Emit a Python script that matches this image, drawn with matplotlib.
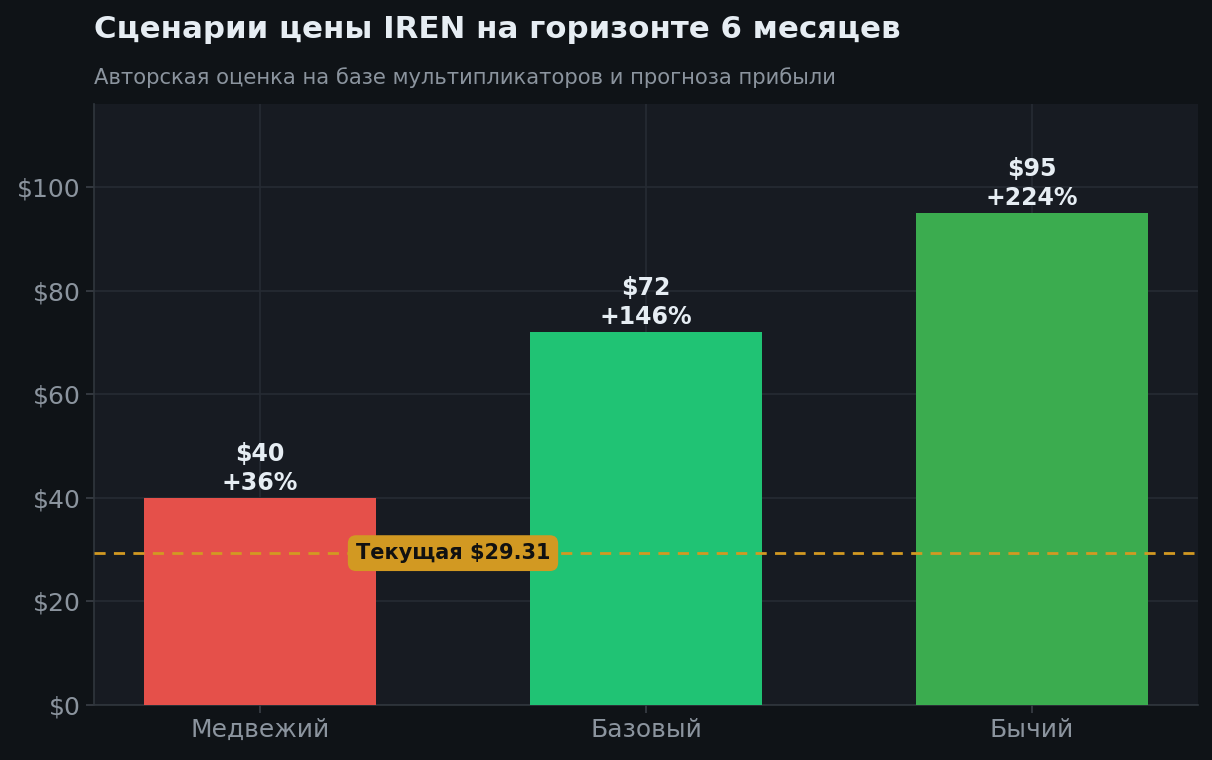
import matplotlib
matplotlib.use("Agg")
from matplotlib import pyplot as plt

scenarios = ["Медвежий", "Базовый", "Бычий"]
targets = [40, 72, 95]
upside = ["+36%", "+146%", "+224%"]
current_price = 29.31
yticks = [0, 20, 40, 60, 80, 100]

bg = "#0f1317"
panel = "#171b22"
txt = "#e6edf3"
muted = "#8b949e"
gridc = "#262b33"
bar_colors = ["#e5504a", "#20c374", "#3bac4f"]
gold = "#d29922"

plt.rcParams["font.family"] = ["DejaVu Sans"]

fig = plt.figure(figsize=(12.12, 7.6), dpi=100, facecolor=bg)
ax = fig.add_axes([94 / 1212, 55 / 760, 1104 / 1212, 601 / 760])
ax.set_facecolor(panel)

x = range(len(scenarios))
ax.bar(x, targets, width=0.6, color=bar_colors, zorder=3)

for i, (v, u) in enumerate(zip(targets, upside)):
    ax.text(i, v + 0.6, f"${v}\n{u}", ha="center", va="bottom",
            color=txt, fontsize=17, fontweight="bold", linespacing=1.25, zorder=5)

ax.axhline(current_price, color=gold, linestyle=(0, (4, 3)), linewidth=2, zorder=4)
ax.text(0.5, current_price, f"Текущая ${current_price:.2f}", ha="center", va="center",
        color="#111111", fontsize=15, fontweight="bold", zorder=6,
        bbox=dict(boxstyle="round,pad=0.38,rounding_size=0.4", fc=gold, ec="none"))

ax.set_ylim(0, 116)
ax.set_xlim(-0.43, 2.43)
ax.set_yticks(yticks)
ax.set_yticklabels([f"${t}" for t in yticks])
ax.set_xticks(list(x))
ax.set_xticklabels(scenarios)
ax.tick_params(colors=muted, labelsize=18, length=6, width=1.2, color="#3a3f47")
ax.grid(True, color=gridc, linewidth=1.2, zorder=0)
for s in ["top", "right"]:
    ax.spines[s].set_visible(False)
for s in ["left", "bottom"]:
    ax.spines[s].set_color("#30363d")
    ax.spines[s].set_linewidth(1.2)

fig.text(94 / 1212, 1 - 29 / 760, "Сценарии цены IREN на горизонте 6 месяцев",
         color=txt, fontsize=22.2, fontweight="bold", ha="left", va="center")
fig.text(94 / 1212, 1 - 78 / 760, "Авторская оценка на базе мультипликаторов и прогноза прибыли",
         color=muted, fontsize=15.2, ha="left", va="center")

fig.savefig("out.png", dpi=100, facecolor=bg)
